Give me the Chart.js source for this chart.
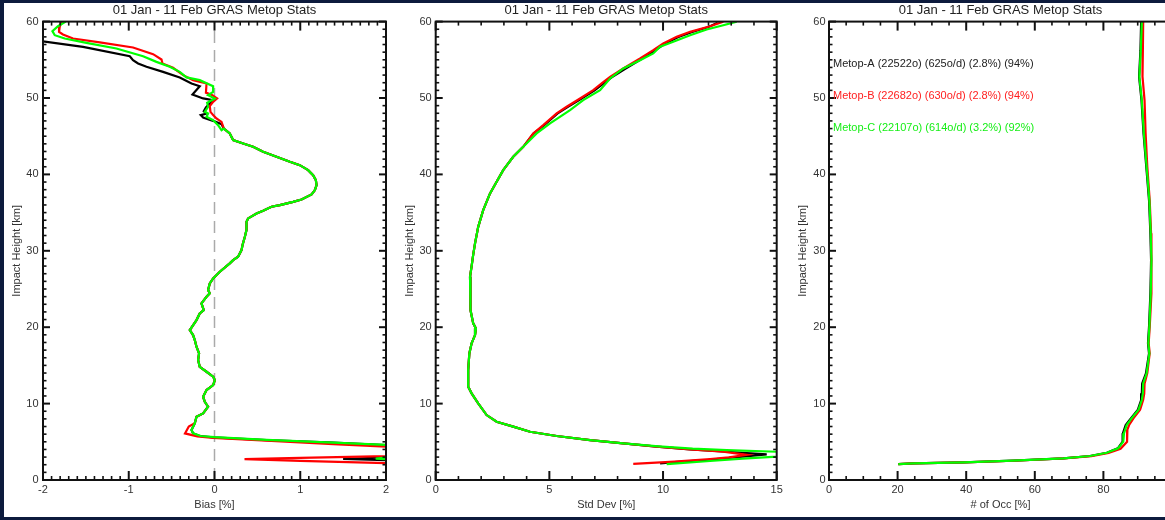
<!DOCTYPE html>
<html><head><meta charset="utf-8">
<script src="https://cdn.jsdelivr.net/npm/chart.js@4.4.1/dist/chart.umd.min.js"></script>
<style>
html,body{margin:0;padding:0;background:#0d1b3d;overflow:hidden;}
#wrap{position:relative;width:1165px;height:520px;overflow:hidden;background:#0d1b3d;}
#paper{position:absolute;left:4px;top:3px;width:1170px;height:514px;background:#fff;}
canvas{position:absolute;top:0;}
</style></head>
<body><div id="wrap"><div id="paper"></div>
<canvas id="c1" width="410" height="520" style="left:0px"></canvas>
<canvas id="c2" width="410" height="520" style="left:390px"></canvas>
<canvas id="c3" width="400" height="520" style="left:785px"></canvas>
</div>
<script>
// ---------- text ----------
const chartTitle = '01 Jan - 11 Feb GRAS Metop Stats';
const yTitle = 'Impact Height [km]';
const xTitles = ['Bias [%]', 'Std Dev [%]', '# of Occ [%]'];
const seriesNames = ['Metop-A (22522o) (625o/d) (2.8%) (94%)',
                     'Metop-B (22682o) (630o/d) (2.8%) (94%)',
                     'Metop-C (22107o) (614o/d) (3.2%) (92%)'];
const seriesColors = ['#000000', '#ff0000', '#00ff00'];
const textColors = ['#222222', '#ff2020', '#16ee16'];

// ---------- ticks ----------
const heightTicks = [0, 10, 20, 30, 40, 50, 60];
const biasTicks = [-2, -1, 0, 1, 2];
const stdTicks = [0, 5, 10, 15];
const occTicks = [0, 20, 40, 60, 80];
const occMajors = [0, 20, 40, 60, 80, 100];

// ---------- panel 1 : bias [x, height] ----------
const biasTopA = [[-2.5,58.2],[-1.533,56.7],[-0.988,55.47],[-0.95,54.95],[-0.891,54.52],[-0.793,54.08],[-0.6,53.42],[-0.405,52.69],[-0.268,51.9],[-0.172,51.55],[-0.257,50.46],[-0.133,49.94],[-0.016,49.72],[-0.1,48.76],[-0.125,48.28],[-0.093,47.98],[-0.16,47.76],[-0.133,47.45],[-0.016,47.01],[0.082,46.58]];
const biasTopB = [[-1.785,60],[-1.805,59.31],[-1.813,58.66],[-1.767,58.31],[-1.65,57.79],[-1.338,57.27],[-0.95,56.61],[-0.716,55.74],[-0.618,55.04],[-0.607,54.52],[-0.483,53.95],[-0.366,52.99],[-0.25,52.34],[-0.093,51.9],[-0.1,50.7],[-0.03,50.4],[0.03,49.94],[-0.016,49.5],[-0.055,48.93],[-0.047,48.19],[-0.016,47.76],[0.023,47.32],[0.082,46.88]];
const biasTopC = [[-1.735,60],[-1.825,59.4],[-1.89,58.75],[-1.863,58.22],[-1.747,57.79],[-1.494,57.22],[-1.144,56.48],[-0.833,55.47],[-0.677,54.73],[-0.522,54.08],[-0.405,53.42],[-0.327,52.69],[-0.172,52.34],[-0.016,51.55],[-0.016,50.81],[-0.075,50.37],[0.004,49.94],[-0.086,49.37],[-0.075,48.85],[-0.113,48.19],[-0.075,47.98],[-0.093,47.54],[-0.016,47.1],[0.042,46.45],[0.082,45.79]];
const biasMid = [[0.109,46.0],[0.178,45.36],[0.217,44.49],[0.334,44.05],[0.45,43.61],[0.567,42.96],[0.723,42.3],[0.879,41.65],[0.995,41.21],[1.092,40.56],[1.15,39.9],[1.182,39.25],[1.19,38.6],[1.17,37.94],[1.132,37.38],[1.015,36.72],[0.917,36.41],[0.762,35.98],[0.665,35.76],[0.567,35.24],[0.49,34.89],[0.392,34.24],[0.373,33.8],[0.373,32.71],[0.354,31.83],[0.327,30.75],[0.315,30.09],[0.275,29.22],[0.217,28.78],[0.178,28.35],[0.062,27.26],[-0.016,26.39],[-0.055,25.73],[-0.075,24.86],[-0.055,24.43],[-0.093,23.98],[-0.152,23.11],[-0.125,22.24],[-0.172,21.8],[-0.21,20.93],[-0.288,19.63],[-0.25,18.97],[-0.23,18.32],[-0.21,17.44],[-0.18,16.57],[-0.191,15.7],[-0.172,14.82],[-0.093,14.17],[-0.016,13.52],[0.004,13.08],[-0.016,12.43],[-0.093,11.78],[-0.133,10.9],[-0.113,10.24],[-0.075,9.59],[-0.133,8.72],[-0.21,8.28],[-0.23,7.42]];
const biasLowA = [[-0.268,6.54],[-0.25,6.11],[-0.172,5.76],[-0.016,5.58],[0.607,5.23],[1.384,4.88],[2.0,4.58],[2.6,4.2],[2.3,3.4],[2.0,2.95],[1.5,2.75],[2.0,2.6],[2.6,2.3]];
const biasLowB = [[-0.3,7.0],[-0.344,6.1],[-0.2,5.72],[-0.016,5.5],[0.607,5.15],[1.384,4.7],[2.0,4.36],[2.8,3.8],[2.0,3.12],[1.0,2.9],[0.35,2.72],[1.0,2.5],[2.0,2.2],[2.6,2.0]];
const biasLowC = [[-0.268,6.54],[-0.25,6.11],[-0.16,5.76],[0.0,5.6],[0.607,5.25],[1.384,4.9],[2.0,4.6],[2.6,3.9],[2.3,3.2],[2.0,2.92],[1.88,2.8],[2.0,2.72],[2.6,2.5]];
const zeroLine = [[0,0],[0,60]];

// ---------- panel 2 : std dev [x, height] ----------
const stdTopA = [[12.4,59.85],[12.0,59.3],[11.25,58.6],[10.65,57.95],[10.08,57.1],[9.63,56.2],[9.05,55.1],[8.32,53.8],[7.74,52.7],[7.36,51.85],[6.99,51.0],[6.4,49.9],[5.8,48.8],[5.35,47.95],[4.76,46.4],[4.3,45.36]];
const stdTopB = [[12.65,60],[12.07,59.4],[11.19,58.66],[10.6,58.0],[10.01,57.13],[9.57,56.26],[8.99,55.17],[8.25,53.87],[7.67,52.77],[7.3,51.9],[6.93,51.03],[6.35,49.94],[5.76,48.85],[5.32,47.98],[4.73,46.45],[4.29,45.36]];
const stdTopC = [[13.24,60],[12.65,59.53],[11.92,58.96],[11.19,58.22],[10.45,57.35],[9.87,56.7],[9.57,55.83],[8.99,54.95],[8.25,53.87],[7.67,52.56],[7.23,51.03],[6.49,49.72],[5.91,48.41],[5.03,46.67],[4.44,45.36]];
const stdMid = [[3.85,43.61],[3.41,42.3],[2.97,40.56],[2.68,39.03],[2.39,37.51],[2.09,35.33],[1.87,33.14],[1.73,30.97],[1.65,29.5],[1.58,28.0],[1.51,26.6],[1.51,24.43],[1.55,22.24],[1.65,20.5],[1.77,19.85],[1.73,18.97],[1.58,17.89],[1.48,16.57],[1.43,14.39],[1.43,12.21],[1.58,11.34],[1.87,10.04],[2.24,8.5],[2.68,7.63],[3.41,6.98],[4.15,6.32],[5.32,5.76],[6.79,5.23],[8.25,4.8]];
const stdLowA = [[9.72,4.36],[11.19,4.01],[12.8,3.7],[14.56,3.36],[13.5,3.05],[12.0,2.65],[10.5,2.35],[9.87,2.18]];
const stdLowB = [[9.72,4.36],[11.19,4.01],[12.65,3.71],[13.68,3.3],[12.9,2.95],[12.07,2.75],[10.5,2.4],[8.69,2.1]];
const stdLowC = [[9.8,4.4],[11.3,4.1],[12.8,3.9],[15.0,3.7],[15.6,3.4],[15.0,3.05],[13.5,2.8],[12.07,2.49],[10.16,2.09]];

// ---------- panel 3 : # of occultations [x, height] ----------
const occA = [[91.0,60],[90.8,56.26],[90.4,52.77],[91.1,49.72],[91.7,45.36],[92.5,41.0],[93.3,36.64],[93.7,32.28],[93.9,28.78],[93.7,24.43],[93.3,20.06],[93.0,17.89],[93.3,16.57],[92.4,13.96],[91.3,12.65],[91.2,11.34],[91.0,10.47],[90.0,9.16],[88.0,8.07],[86.5,7.2],[85.7,6.11],[85.6,5.01],[84.2,4.15],[81.0,3.57],[76.1,3.14],[68.3,2.84],[53.7,2.53],[39.2,2.31],[24.6,2.18],[20.2,2.09]];
const occB = [[91.6,60],[91.5,56.0],[91.4,52.8],[92.0,49.7],[92.3,45.4],[92.8,41.0],[93.5,36.6],[93.9,32.3],[94.1,28.8],[93.9,24.4],[93.5,20.0],[93.2,17.9],[93.5,16.6],[92.8,14.0],[92.0,12.6],[91.9,11.3],[91.6,10.5],[90.7,9.2],[88.8,8.1],[87.5,7.2],[87.0,6.6],[86.9,5.0],[85.0,4.1],[81.5,3.55],[76.5,3.12],[68.5,2.83],[54.0,2.52],[39.3,2.3],[24.6,2.17],[20.2,2.08]];
const occC = [[91.2,60],[90.9,56.26],[90.5,52.77],[91.2,49.72],[91.8,45.36],[92.6,41.0],[93.4,36.64],[93.8,32.28],[94.0,28.78],[93.8,24.43],[93.4,20.06],[93.1,17.89],[93.4,16.57],[92.6,13.96],[91.6,12.65],[91.5,11.34],[91.2,10.47],[90.2,9.16],[88.2,8.07],[86.8,7.2],[86.0,6.11],[85.8,5.01],[84.3,4.15],[81.0,3.57],[76.1,3.14],[68.3,2.84],[53.7,2.53],[39.2,2.31],[24.6,2.18],[20.2,2.09]];

// ---------- helpers ----------
Chart.defaults.font.family = "'Liberation Sans', Arial, Helvetica, sans-serif";
const toPts = arr => arr.map(p => ({x: p[0], y: p[1]}));

function series(points, i) {
  return {data: toPts(points), borderColor: seriesColors[i], backgroundColor: seriesColors[i],
          borderWidth: 2.2, pointRadius: 0, showLine: true, fill: false, tension: 0, order: 3 - i};
}

const framePlugin = {
  id: 'frame',
  afterDatasetsDraw(chart) {
    const o = chart.options.plugins.frame;
    const {ctx, chartArea: a, scales: {x, y}} = chart;
    ctx.save();
    ctx.strokeStyle = '#111';
    const seg = (x1, y1, x2, y2) => { ctx.beginPath(); ctx.moveTo(x1, y1); ctx.lineTo(x2, y2); ctx.stroke(); };
    const nx = Math.round((o.xMax - o.xMin) / o.xMinor);
    for (let i = 0; i <= nx; i++) {
      const v = o.xMin + i * o.xMinor;
      const major = o.xMajors.some(m => Math.abs(m - v) < 1e-6);
      const len = major ? 9 : 4;
      ctx.lineWidth = major ? 2 : 1.6;
      const p = x.getPixelForValue(v);
      seg(p, a.bottom, p, a.bottom - len);
      seg(p, a.top, p, a.top + len);
    }
    const ny = Math.round((o.yMax - o.yMin) / o.yMinor);
    for (let i = 0; i <= ny; i++) {
      const v = o.yMin + i * o.yMinor;
      const major = heightTicks.some(m => Math.abs(m - v) < 1e-6);
      const len = major ? 7 : 3.5;
      ctx.lineWidth = major ? 2 : 1.6;
      const p = y.getPixelForValue(v);
      seg(a.left, p, a.left + len, p);
      seg(a.right, p, a.right - len, p);
    }
    ctx.lineWidth = 2;
    ctx.strokeRect(a.left, a.top, a.right - a.left, a.bottom - a.top);
    ctx.restore();
  }
};

const legendTextPlugin = {
  id: 'metopText',
  afterDatasetsDraw(chart) {
    const o = chart.options.plugins.metopText;
    if (!o || !o.show) return;
    const {ctx, chartArea: a} = chart;
    ctx.save();
    ctx.font = "11px 'Liberation Sans', Arial, sans-serif";
    ctx.textBaseline = 'middle';
    ctx.textAlign = 'left';
    seriesNames.forEach((t, i) => {
      ctx.fillStyle = textColors[i];
      ctx.fillText(t, a.left + 4, a.top + 42 + i * 32);
    });
    ctx.restore();
  }
};

function makePanel(id, cfg) {
  return new Chart(document.getElementById(id), {
    type: 'scatter',
    data: {datasets: cfg.datasets},
    options: {
      responsive: false, animation: false, events: [],
      layout: {padding: {left: 0, right: cfg.rightPad, top: 0, bottom: 0}},
      plugins: {
        legend: {display: false}, tooltip: {enabled: false},
        title: {display: true, text: chartTitle, fullSize: false, color: '#222',
                font: {size: 13, weight: 'normal'}, padding: {top: 3, bottom: 3}},
        frame: {xMin: cfg.xMin, xMax: cfg.xMax, xMinor: cfg.xMinor, xMajors: cfg.xMajors || cfg.xTicks,
                yMin: 0, yMax: 60, yMinor: 1},
        metopText: {show: !!cfg.legend}
      },
      scales: {
        x: {type: 'linear', min: cfg.xMin, max: cfg.xMax,
            afterBuildTicks: s => { s.ticks = cfg.xTicks.map(v => ({value: v})); },
            afterFit: s => { s.height = 40; },
            grid: {display: false, drawTicks: false}, border: {display: false},
            ticks: {padding: 3, color: '#333', font: {size: 11}, maxRotation: 0, autoSkip: false},
            title: {display: true, text: cfg.xTitle, color: '#333', font: {size: 11},
                    padding: {top: 0, bottom: 8.4}}},
        y: {type: 'linear', min: 0, max: 60,
            afterBuildTicks: s => { s.ticks = heightTicks.map(v => ({value: v})); },
            afterFit: s => { s.width = cfg.yWidth; },
            grid: {display: false, drawTicks: false}, border: {display: false},
            ticks: {padding: cfg.yTickPad, color: '#333', font: {size: 11}, autoSkip: false},
            title: {display: true, text: yTitle, color: '#333', font: {size: 11},
                    padding: {top: cfg.yTitlePad, bottom: 0}}}
      }
    },
    plugins: [framePlugin, legendTextPlugin]
  });
}

makePanel('c1', {
  datasets: [
    {data: toPts(zeroLine), borderColor: '#aaaaaa', borderWidth: 1.5, borderDash: [12, 7],
     pointRadius: 0, showLine: true, fill: false, order: 10},
    series(biasTopA.concat(biasMid, biasLowA), 0),
    series(biasTopB.concat(biasMid, biasLowB), 1),
    series(biasTopC.concat(biasMid, biasLowC), 2)
  ],
  xMin: -2, xMax: 2, xTicks: biasTicks, xMinor: 0.1, xTitle: xTitles[0],
  yWidth: 43, yTickPad: 4.5, yTitlePad: 10.4, rightPad: 24
});

makePanel('c2', {
  datasets: [
    series(stdTopA.concat(stdMid, stdLowA), 0),
    series(stdTopB.concat(stdMid, stdLowB), 1),
    series(stdTopC.concat(stdMid, stdLowC), 2)
  ],
  xMin: 0, xMax: 15, xTicks: stdTicks, xMinor: 1, xTitle: xTitles[1],
  yWidth: 45.7, yTickPad: 4, yTitlePad: 13.4, rightPad: 23.3
});

makePanel('c3', {
  datasets: [series(occA, 0), series(occB, 1), series(occC, 2)],
  xMin: 0, xMax: 100, xTicks: occTicks, xMajors: occMajors, xMinor: 5, xTitle: xTitles[2],
  yWidth: 44, yTickPad: 3.5, yTitlePad: 11.1, rightPad: 13, legend: true
});
</script>
</body></html>
